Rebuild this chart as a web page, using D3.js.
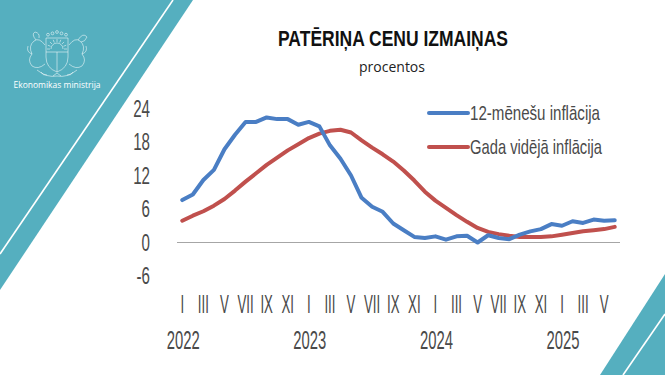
<!DOCTYPE html>
<html>
<head>
<meta charset="utf-8">
<script src="https://cdn.jsdelivr.net/npm/d3@7"></script>
<style>
  html, body { margin: 0; padding: 0; background: #fff; }
  svg { display: block; }
  .axis text { font-family: "Liberation Sans", Arial, sans-serif; fill: #4a4a4a; }
</style>
</head>
<body>
<script>
// ==========================================
// DATA
// ==========================================
const years = [2022, 2023, 2024, 2025];
const monthLabels = ['I', 'II', 'III', 'IV', 'V', 'VI', 'VII', 'VIII', 'IX', 'X', 'XI', 'XII'];
const monthsShown = 42; // I.2022 - VI.2025

const yTicks = [-6, 0, 6, 12, 18, 24];

// 12-mēnešu inflācija, %
const inflation12m = [
  7.6, 8.6, 11.2, 13.0, 16.7, 19.3, 21.6, 21.6, 22.4, 22.1, 22.1, 21.1,
  21.6, 20.8, 17.4, 15.0, 12.0, 8.0, 6.4, 5.5, 3.4, 2.2, 1.0, 0.8,
  1.1, 0.5, 1.1, 1.2, 0.0, 1.3, 0.8, 0.6, 1.4, 2.0, 2.4, 3.3,
  3.0, 3.8, 3.5, 4.1, 3.9, 4.0
];

// Gada vidējā inflācija, %
const inflationAvg = [
  3.9, 4.8, 5.6, 6.6, 7.8, 9.3, 10.9, 12.4, 13.9, 15.2, 16.5, 17.6,
  18.7, 19.5, 20.0, 20.2, 19.7, 18.3, 17.0, 15.8, 14.5, 12.9, 11.1, 9.1,
  7.5, 6.2, 4.9, 3.7, 2.6, 1.9, 1.5, 1.2, 1.0, 1.0, 1.0, 1.1,
  1.4, 1.7, 2.0, 2.2, 2.4, 2.8
];

const seriesNames = ['12-mēnešu inflācija', 'Gada vidējā inflācija'];
const seriesColors = ['#4a7ec4', '#c0504d'];

// categories built from years/months
const periods = d3.range(monthsShown).map(i => ({
  i: i,
  year: years[Math.floor(i / 12)],
  month: monthLabels[i % 12]
}));

// ==========================================
// SETUP
// ==========================================
const W = 665, H = 375;
const teal = '#55afbf';
const chartFont = '"Liberation Sans", Arial, sans-serif';

const svg = d3.select('body').append('svg')
  .attr('width', W)
  .attr('height', H);

// ==========================================
// BACKGROUND SHAPES
// ==========================================
svg.append('polygon')
  .attr('points', '0,0 193,0 0,290')
  .attr('fill', teal);

svg.append('line')
  .attr('x1', 173).attr('y1', 0)
  .attr('x2', 0).attr('y2', 254)
  .attr('stroke', '#fff')
  .attr('stroke-width', 1.6);

svg.append('polygon')
  .attr('points', '665,274 665,375 600,375')
  .attr('fill', teal);

svg.append('line')
  .attr('x1', 665).attr('y1', 314)
  .attr('x2', 623).attr('y2', 375)
  .attr('stroke', '#fff')
  .attr('stroke-width', 1.6);

// ==========================================
// LOGO (simplified coat of arms)
// ==========================================
const logo = svg.append('g')
  .attr('transform', 'translate(57,51)')
  .attr('fill', 'none')
  .attr('stroke', '#fff')
  .attr('stroke-opacity', 0.75)
  .attr('stroke-width', 0.7);

// shield
logo.append('path')
  .attr('d', 'M-11,-13 L11,-13 L11,6 Q11,17 0,21 Q-11,17 -11,6 Z');
logo.append('path')
  .attr('d', 'M-11,1 L11,1 M0,1 L0,21');
// sun
logo.append('path')
  .attr('d', 'M-6,-2 A6,6 0 0 1 6,-2');
d3.range(9).forEach(k => {
  const a = Math.PI + k * Math.PI / 8;
  logo.append('line')
    .attr('x1', Math.cos(a) * 7).attr('y1', -2 + Math.sin(a) * 7)
    .attr('x2', Math.cos(a) * 10).attr('y2', -2 + Math.sin(a) * 10);
});
// stars on top
[-9, -4.5, 0, 4.5, 9].forEach(dx => {
  logo.append('circle').attr('cx', dx).attr('cy', -19 + Math.abs(dx) * 0.3).attr('r', 1.4);
});
// lion (left) & griffin (right)
logo.append('path')
  .attr('d', 'M-12,-6 Q-18,-14 -23,-10 Q-29,-5 -25,3 Q-30,9 -25,15 Q-19,19 -12,13 M-21,-11 Q-26,-17 -22,-19 Q-17,-18 -18,-13 M-25,3 Q-31,1 -29,-5');
logo.append('path')
  .attr('d', 'M12,-6 Q18,-14 23,-10 Q29,-5 25,3 Q30,9 25,15 Q19,19 12,13 M21,-11 Q26,-19 30,-14 Q28,-9 24,-9 M25,3 Q31,1 29,-5');
// oak branches
logo.append('path')
  .attr('d', 'M-20,19 Q-10,27 0,25 Q10,27 20,19 M-16,21 Q-14,25 -10,24 M16,21 Q14,25 10,24 M-4,25 L0,22 L4,25');

svg.append('text')
  .attr('x', 57)
  .attr('y', 88)
  .attr('text-anchor', 'middle')
  .attr('fill', '#fff')
  .style('font-family', '"Open Sans", "Noto Sans", sans-serif')
  .style('font-size', '8.5px')
  .text('Ekonomikas ministrija');

// ==========================================
// TITLE
// ==========================================
svg.append('text')
  .attr('x', 278)
  .attr('y', 46)
  .attr('fill', '#111')
  .attr('textLength', 230)
  .attr('lengthAdjust', 'spacingAndGlyphs')
  .style('font-family', chartFont)
  .style('font-weight', 'bold')
  .style('font-size', '21.5px')
  .text('PATĒRIŅA CENU IZMAIŅAS');

svg.append('text')
  .attr('x', 392)
  .attr('y', 72)
  .attr('text-anchor', 'middle')
  .attr('fill', '#222')
  .style('font-family', '"Open Sans", "Noto Sans", sans-serif')
  .style('font-size', '14px')
  .text('procentos');

// ==========================================
// SCALES
// ==========================================
const plotLeft = 177, plotRight = 620;

const x = d3.scaleBand()
  .domain(periods.map(d => d.i))
  .range([plotLeft, plotRight])
  .padding(0);

const xc = i => x(i) + x.bandwidth() / 2;

const y = d3.scaleLinear()
  .domain([-6, 24])
  .range([276, 108.5]);

// ==========================================
// AXES (condensed by horizontal scaling of text)
// ==========================================
const yAxis = svg.append('g')
  .attr('class', 'axis')
  .attr('transform', 'translate(150,0)')
  .call(d3.axisLeft(y).tickValues(yTicks).tickFormat(d => String(d)).tickSize(0).tickPadding(0));
yAxis.select('.domain').remove();
yAxis.selectAll('text')
  .attr('x', 0)
  .attr('transform', 'scale(0.63,1)')
  .style('font-size', '24px');

// month row
const monthAxis = svg.append('g')
  .attr('class', 'axis')
  .attr('transform', 'translate(0,304)')
  .call(d3.axisBottom(x)
    .tickValues(periods.filter(d => d.i % 2 === 0).map(d => d.i))
    .tickFormat(i => periods[i].month)
    .tickSize(0));
monthAxis.select('.domain').remove();
monthAxis.selectAll('text')
  .attr('y', 0)
  .attr('dy', '0.35em')
  .attr('transform', 'scale(0.53,1)')
  .style('font-size', '25px');

// year row
const yearAxis = svg.append('g')
  .attr('class', 'axis')
  .attr('transform', 'translate(1,340)')
  .call(d3.axisBottom(x)
    .tickValues(periods.filter(d => d.i % 12 === 0).map(d => d.i))
    .tickFormat(i => periods[i].year)
    .tickSize(0));
yearAxis.select('.domain').remove();
yearAxis.selectAll('text')
  .attr('y', 0)
  .attr('dy', '0.35em')
  .attr('transform', 'scale(0.57,1)')
  .style('font-size', '26px');

// zero line
svg.append('line')
  .attr('x1', plotLeft)
  .attr('x2', plotRight)
  .attr('y1', y(0))
  .attr('y2', y(0))
  .attr('stroke', '#a6a6a6')
  .attr('stroke-width', 1);

// ==========================================
// LINES
// ==========================================
const line = d3.line()
  .x((d, i) => xc(i))
  .y(d => y(d));

svg.append('path')
  .datum(inflationAvg)
  .attr('fill', 'none')
  .attr('stroke', seriesColors[1])
  .attr('stroke-width', 4)
  .attr('stroke-linejoin', 'round')
  .attr('stroke-linecap', 'round')
  .attr('d', line);

svg.append('path')
  .datum(inflation12m)
  .attr('fill', 'none')
  .attr('stroke', seriesColors[0])
  .attr('stroke-width', 4)
  .attr('stroke-linejoin', 'round')
  .attr('stroke-linecap', 'round')
  .attr('d', line);

// ==========================================
// LEGEND
// ==========================================
const legendRows = [
  { name: seriesNames[0], color: seriesColors[0], y: 113, w: 130 },
  { name: seriesNames[1], color: seriesColors[1], y: 147, w: 132 }
];

const legend = svg.append('g').attr('class', 'legend');

legend.selectAll('line')
  .data(legendRows)
  .enter()
  .append('line')
  .attr('x1', 429)
  .attr('x2', 468)
  .attr('y1', d => d.y)
  .attr('y2', d => d.y)
  .attr('stroke', d => d.color)
  .attr('stroke-width', 4)
  .attr('stroke-linecap', 'round');

legend.selectAll('text')
  .data(legendRows)
  .enter()
  .append('text')
  .attr('x', 470)
  .attr('y', d => d.y)
  .attr('dy', '0.35em')
  .attr('fill', '#4a4a4a')
  .attr('textLength', d => d.w)
  .attr('lengthAdjust', 'spacingAndGlyphs')
  .style('font-family', chartFont)
  .style('font-size', '21px')
  .text(d => d.name);
</script>
</body>
</html>
